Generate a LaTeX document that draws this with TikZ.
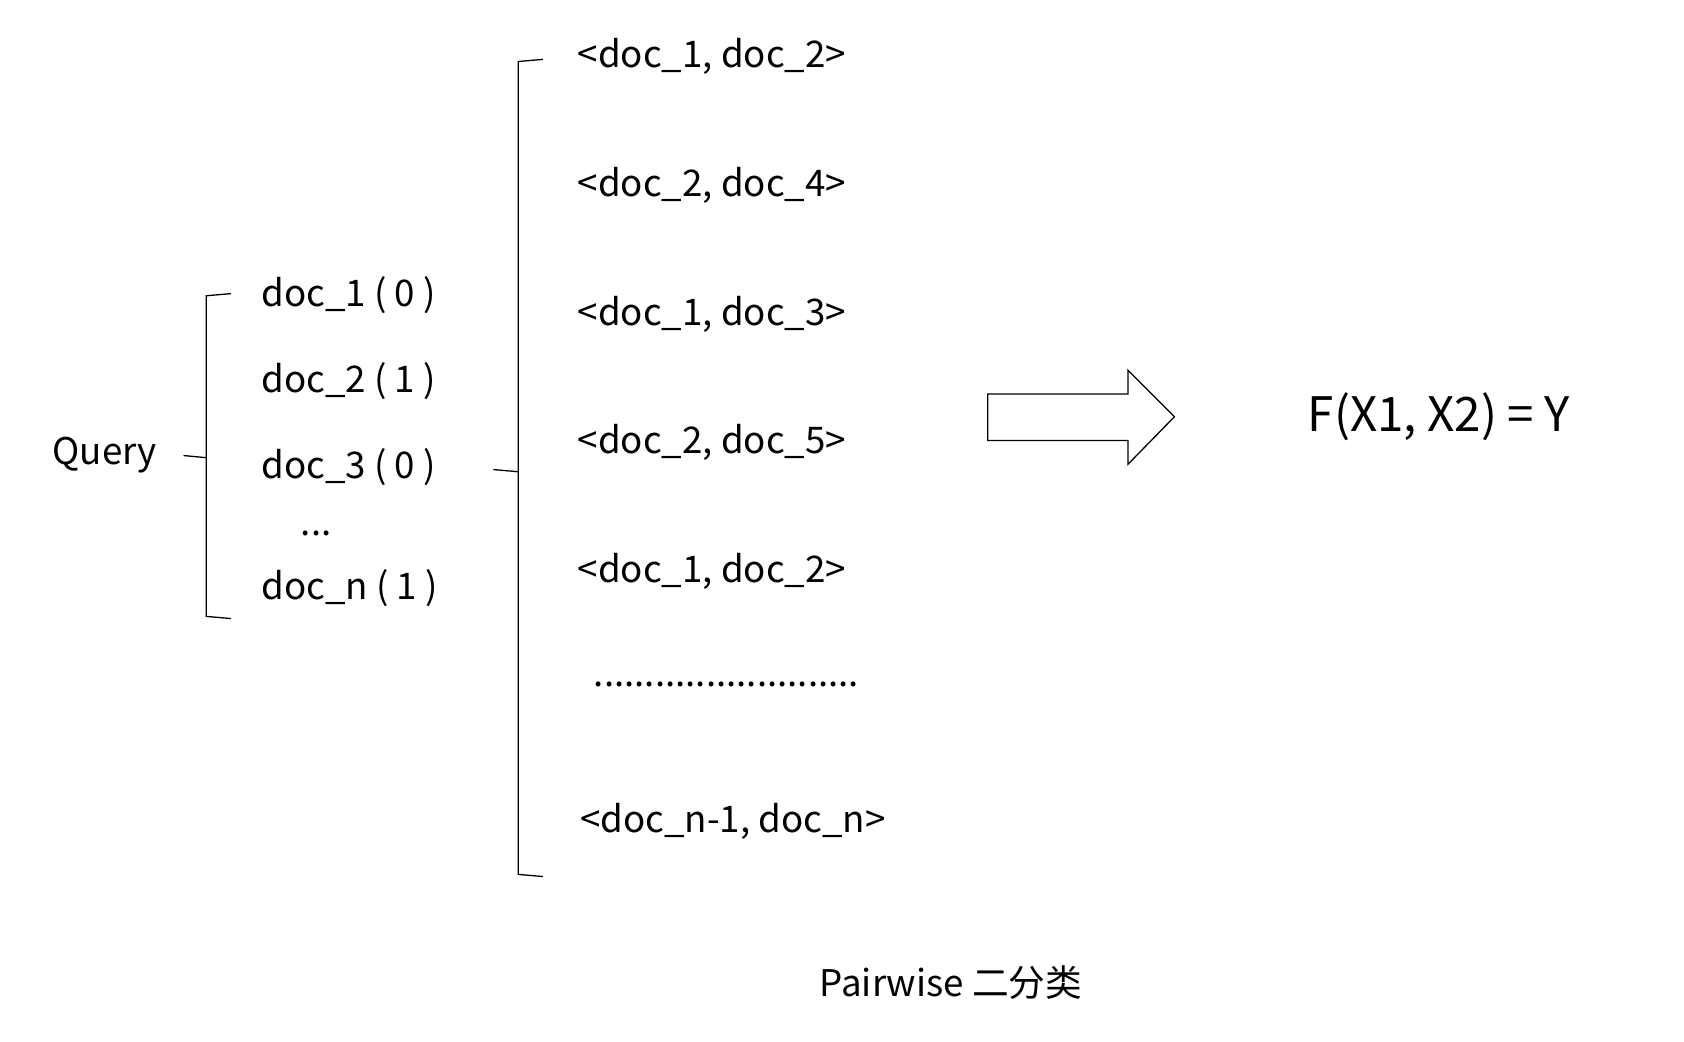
\documentclass[tikz,border=0pt]{standalone}
\usepackage{fontspec}
\setmainfont{Noto Sans CJK SC}
\begin{document}
\begin{tikzpicture}[x=1pt,y=-1pt,
  lbl/.style={inner sep=0pt,font=\fontsize{34}{40}\selectfont},
  brc/.style={draw,line width=1.2pt}]
\useasboundingbox (0,0) rectangle (1560,965);
\node[lbl] (q) at (97,422) {Query};
\node[lbl,anchor=west] (d1) at (242,273) {doc\_1 ( 0 )};
\node[lbl,anchor=west] (d2) at (242,353) {doc\_2 ( 1 )};
\node[lbl,anchor=west] (d3) at (242,433) {doc\_3 ( 0 )};
\node[lbl] (dd) at (293,494) {...};
\node[lbl,anchor=west] (dn) at (242,545) {doc\_n ( 1 )};
\draw[brc] (214,272) -- (191,274) -- (191,571) -- (214,573);
\draw[brc] (170,422) -- (191,424);
\draw[brc] (503,55) -- (480,57) -- (480,810) -- (503,812);
\draw[brc] (457,435) -- (480,437);
\foreach \n/\y/\t in {p1/52/{<doc\_1, doc\_2>},p2/172/{<doc\_2, doc\_4>},p3/291/{<doc\_1, doc\_3>},p4/410/{<doc\_2, doc\_5>},p5/529/{<doc\_1, doc\_2>}}
  \node[lbl,anchor=west] (\n) at (535,\y) {\t};
\node[lbl] (pd) at (673,634) {..........................};
\node[lbl] (pn) at (679,761) {<doc\_n-1, doc\_n>};
\draw[line width=1.2pt] (915,365) -- (1045,365) -- (1045,343) -- (1088,386) -- (1045,430) -- (1045,408) -- (915,408) -- cycle;
\node[inner sep=0pt,font=\fontsize{44}{50}\selectfont] (f) at (1333,386) {F(X1, X2) = Y};
\node[lbl] (pw) at (881,910) {Pairwise 二分类};
\end{tikzpicture}
\end{document}
